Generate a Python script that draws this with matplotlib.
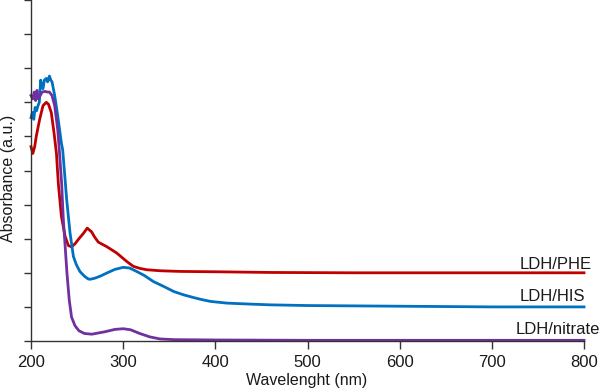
import matplotlib
matplotlib.use("Agg")
import matplotlib.pyplot as plt

# ---- data ----
phe_x = [200, 202, 204, 205.7, 207.6, 209.4, 213, 216.6, 219, 222, 225, 227.6, 229.7, 233,
         237, 240.5, 244, 247.7, 252, 256.7, 261, 265.8, 269, 273, 275, 282, 293, 304, 311,
         318, 325.5, 340, 362, 400, 460, 550, 650, 800]
phe_y = [0.57, 0.55, 0.57, 0.60, 0.626, 0.65, 0.69, 0.70, 0.694, 0.67, 0.61, 0.55, 0.46, 0.365,
         0.307, 0.28, 0.276, 0.285, 0.30, 0.315, 0.331, 0.32, 0.305, 0.29, 0.287, 0.277, 0.258,
         0.233, 0.219, 0.213, 0.209, 0.206, 0.204, 0.203, 0.201, 0.2, 0.2, 0.2]

his_x = [200, 201.5, 203, 204.5, 206, 207.6, 209, 210.5, 212, 213, 214.5, 216.6, 218, 220,
         221.5, 222.8, 225.7, 229, 231, 233, 234.4, 236.5, 238.7, 242.3, 246, 249, 253, 258,
         262, 264, 269, 275, 282, 291, 300, 307, 314.6, 323, 333, 344, 355, 366, 377, 386,
         395, 413, 440, 460, 500, 600, 700, 800]
his_y = [0.655, 0.67, 0.65, 0.685, 0.675, 0.69, 0.70, 0.765, 0.745, 0.74, 0.765, 0.77, 0.76,
         0.777, 0.765, 0.76, 0.72, 0.66, 0.62, 0.58, 0.56, 0.49, 0.415, 0.318, 0.248, 0.225,
         0.204, 0.19, 0.182, 0.181, 0.184, 0.19, 0.199, 0.21, 0.216, 0.214, 0.204, 0.192, 0.174,
         0.16, 0.145, 0.135, 0.127, 0.121, 0.116, 0.111, 0.108, 0.106, 0.104, 0.102, 0.1, 0.1]

nit_x = [200, 202, 203.5, 205, 206.5, 208, 210, 212, 215, 218, 220, 222.8, 225.7, 229, 230.7,
         233.3, 235, 237, 239, 241.5, 244, 247.7, 252, 258, 266, 280, 291, 300, 308, 318, 329,
         340, 355, 400, 500, 600, 800]
nit_y = [0.72, 0.71, 0.73, 0.705, 0.735, 0.71, 0.72, 0.73, 0.732, 0.73, 0.73, 0.72, 0.69, 0.62,
         0.56, 0.46, 0.36, 0.28, 0.2, 0.12, 0.07, 0.045, 0.03, 0.022, 0.02, 0.027, 0.034, 0.036,
         0.033, 0.022, 0.012, 0.006, 0.004, 0.003, 0.002, 0.002, 0.002]

series_names = ["LDH/PHE", "LDH/HIS", "LDH/nitrate"]
x_ticks = [200, 300, 400, 500, 600, 700, 800]
y_ticks = [0.0, 0.1, 0.2, 0.3, 0.4, 0.5, 0.6, 0.7, 0.8, 0.9, 1.0]

plt.rcParams['font.family'] = ['Liberation Sans', 'DejaVu Sans']

W, H = 602, 390
fig = plt.figure(figsize=(W / 100, H / 100), dpi=100)
ax = fig.add_axes([31 / W, 49 / H, 553 / W, 341 / H])

colors = ["#C00000", "#0070C0", "#7030A0"]
for xs, ys, c in zip([phe_x, his_x, nit_x], [phe_y, his_y, nit_y], colors):
    ax.plot(xs, ys, color=c, lw=2.0, solid_joinstyle='round', clip_on=False)

ax.set_xlim(200, 800)
ax.set_ylim(0, 1.0)
ax.set_xticks(x_ticks)
ax.set_yticks(y_ticks)
ax.set_yticklabels([])
for s in ["top", "right"]:
    ax.spines[s].set_visible(False)
for s in ["left", "bottom"]:
    ax.spines[s].set_color("#333333")
    ax.spines[s].set_linewidth(1.0)
ax.tick_params(axis='x', direction='out', length=6, width=1.0, color="#333333",
               labelsize=12, labelcolor="#1a1a1a", pad=4)
ax.tick_params(axis='y', direction='out', length=5, width=1.0, color="#333333")

# series labels
label_pos = [(769, 0.212), (766, 0.118), (771.5, 0.021)]
for name, (lx, ly) in zip(series_names, label_pos):
    ax.text(lx, ly, name, ha='center', va='baseline', fontsize=12, color="#1a1a1a",
            clip_on=False)

fig.text(307 / W, 1 - 380 / H, "Wavelenght (nm)", ha='center', va='center',
         fontsize=11.5, color="#1a1a1a")
fig.text(9 / W, 1 - 178 / H, "Absorbance (a.u.)", ha='center', va='center',
         rotation=90, fontsize=11.5, color="#1a1a1a")

fig.savefig("out.png", dpi=100)
